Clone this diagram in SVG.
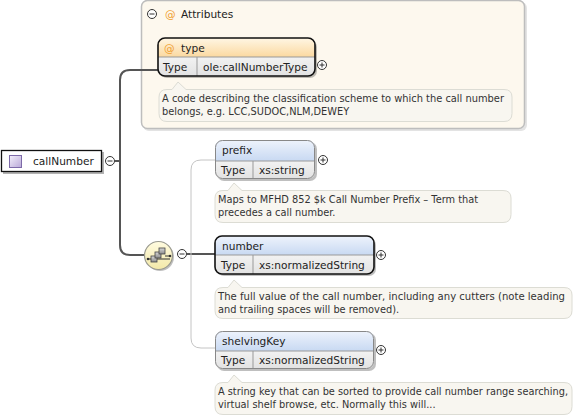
<svg xmlns="http://www.w3.org/2000/svg" width="579" height="417" viewBox="0 0 579 417">
<defs>
<linearGradient id="gBlue" x1="0" y1="0" x2="0" y2="1"><stop offset="0" stop-color="#eef3fc"/><stop offset="1" stop-color="#c8d9f2"/></linearGradient>
<linearGradient id="gOrange" x1="0" y1="0" x2="0" y2="1"><stop offset="0" stop-color="#fff6e4"/><stop offset="1" stop-color="#fbd9a0"/></linearGradient>
<linearGradient id="gRow" x1="0" y1="0" x2="0" y2="1"><stop offset="0" stop-color="#f2f2f2"/><stop offset="1" stop-color="#e2e2e2"/></linearGradient>
<linearGradient id="gIcon" x1="0" y1="0" x2="1" y2="1"><stop offset="0" stop-color="#f4f0fb"/><stop offset="1" stop-color="#b9a8d8"/></linearGradient>
<linearGradient id="gComp" x1="0" y1="0" x2="0" y2="1"><stop offset="0" stop-color="#fffbe0"/><stop offset="1" stop-color="#f3e9a8"/></linearGradient>
<linearGradient id="gSq" x1="0" y1="0" x2="0" y2="1"><stop offset="0" stop-color="#d8d8d8"/><stop offset="1" stop-color="#8c8c8c"/></linearGradient>
<clipPath id="cType"><rect x="158" y="38" width="157" height="38" rx="7"/></clipPath>
<clipPath id="cPrefix"><rect x="215" y="140" width="100" height="39" rx="7"/></clipPath>
<clipPath id="cNumber"><rect x="215" y="236" width="159" height="38" rx="7"/></clipPath>
<clipPath id="cShelv"><rect x="215" y="331" width="159" height="38" rx="7"/></clipPath>
</defs>
<style>
text{font-family:"DejaVu Sans","Liberation Sans",sans-serif;fill:#222;}
.t{font-size:10.6px;}
.d{font-size:9.8px;fill:#333;}
.shadow{fill:#000;opacity:0.25;}
.doc{fill:#f8f6f0;stroke:#dcdcd4;stroke-width:1;}
.pc{fill:#fff;stroke:#333;stroke-width:1;}
.pl{stroke:#333;stroke-width:1;fill:none;}
.dark{stroke:#555;stroke-width:2;fill:none;}
.light{stroke:#c4c4c4;stroke-width:1;fill:none;}
</style>

<!-- Attributes container -->
<g id="attributes">
<rect x="143" y="2" width="384" height="129" rx="6" fill="#c8c8c8" opacity="0.5"/>
<rect x="141.5" y="0.5" width="383" height="128" rx="6" fill="#fdf8ee" stroke="#bdbdbd" stroke-width="1.5"/>
<circle class="pc" cx="152" cy="14" r="4.5"/>
<path class="pl" d="M149.5 14h5"/>
<text class="t" x="165" y="18" style="fill:#f0a030">@</text>
<text class="t" x="181" y="18">Attributes</text>
</g>

<!-- connectors -->
<g id="connectors">
<path class="dark" d="M115 161H120"/>
<path class="dark" d="M158 70H130Q120 70 120 80V245Q120 255 130 255H145"/>
<path class="dark" d="M187 254H215"/>
<path class="light" d="M215 160H201Q191 160 191 170V338Q191 348 201 348H215"/>
</g>

<!-- callNumber -->
<g id="callNumber">
<rect x="3" y="152" width="101" height="22" fill="#000" opacity="0.3"/>
<rect x="1.5" y="150.5" width="100" height="21" fill="#fff" stroke="#111" stroke-width="1.3"/>
<rect x="9.5" y="155.5" width="12" height="12" fill="url(#gIcon)" stroke="#7d6aa8" stroke-width="1"/>
<text class="t" x="33" y="165">callNumber</text>
<circle class="pc" cx="110" cy="161" r="4.5"/>
<path class="pl" d="M107.5 161h5"/>
</g>

<!-- compositor (sequence) -->
<g id="sequence">
<circle cx="160" cy="257" r="14" fill="#000" opacity="0.25"/>
<circle cx="158.5" cy="255.5" r="14" fill="url(#gComp)" stroke="#9a9a90" stroke-width="1.2"/>
<path d="M148 259H170" stroke="#333" stroke-width="1"/>
<circle cx="148" cy="259" r="1.3" fill="#333"/>
<circle cx="170" cy="256" r="1.3" fill="#333"/>
<rect x="151" y="256" width="6" height="6" fill="url(#gSq)" stroke="#444" stroke-width="0.8"/>
<rect x="155" y="252" width="6" height="6" fill="url(#gSq)" stroke="#444" stroke-width="0.8"/>
<rect x="159" y="248" width="6" height="6" fill="url(#gSq)" stroke="#444" stroke-width="0.8"/>
<path d="M165 256H170" stroke="#333" stroke-width="1"/>
<circle class="pc" cx="182" cy="254" r="4.5"/>
<path class="pl" d="M179.5 254h5"/>
</g>

<!-- type attribute -->
<g id="type">
<rect x="160" y="40" width="157" height="38" rx="7" class="shadow"/>
<g clip-path="url(#cType)">
<rect x="158" y="38" width="157" height="19" fill="url(#gOrange)"/>
<rect x="158" y="57" width="157" height="19" fill="url(#gRow)"/>
<path d="M158 57H315M197 57V76" stroke="#999" stroke-width="1"/>
</g>
<rect x="158" y="38" width="157" height="38" rx="7" fill="none" stroke="#111" stroke-width="1.6"/>
<text class="t" x="164" y="52" style="fill:#f0a030">@</text>
<text class="t" x="181" y="52">type</text>
<text class="t" x="163" y="71">Type</text>
<text class="t" x="203" y="71">ole:callNumberType</text>
<circle class="pc" cx="322" cy="65" r="4.5"/>
<path class="pl" d="M319.5 65h5M322 62.5v5"/>
<path class="doc" d="M167 121.5H504Q512 121.5 512 113.5V97Q512 89.5 504 89.5H186L178 82L172 89.5H167Q159 89.5 159 97V113.5Q159 121.5 167 121.5Z"/>
<text class="d" x="162" y="102" textLength="342" lengthAdjust="spacingAndGlyphs">A code describing the classification scheme to which the call number</text>
<text class="d" x="162" y="115">belongs, e.g. LCC,SUDOC,NLM,DEWEY</text>
</g>

<!-- prefix -->
<g id="prefix">
<rect x="217" y="142" width="100" height="39" rx="7" class="shadow"/>
<g clip-path="url(#cPrefix)">
<rect x="215" y="140" width="100" height="21" fill="url(#gBlue)"/>
<rect x="215" y="161" width="100" height="18" fill="url(#gRow)"/>
<path d="M215 161H315M253 161V179" stroke="#999" stroke-width="1"/>
</g>
<rect x="215.5" y="140.5" width="99" height="38" rx="7" fill="none" stroke="#888" stroke-width="1"/>
<text class="t" x="222" y="154">prefix</text>
<text class="t" x="221" y="174">Type</text>
<text class="t" x="259" y="174">xs:string</text>
<circle class="pc" cx="323" cy="160" r="4.5"/>
<path class="pl" d="M320.5 160h5M323 157.5v5"/>
<path class="doc" d="M223 222.5H503Q511 222.5 511 214.5V198Q511 190.5 503 190.5H242L234 183L228 190.5H223Q215 190.5 215 198V214.5Q215 222.5 223 222.5Z"/>
<text class="d" x="218" y="203">Maps to MFHD 852 $k Call Number Prefix – Term that</text>
<text class="d" x="218" y="216">precedes a call number.</text>
</g>

<!-- number -->
<g id="number">
<rect x="217" y="238" width="159" height="38" rx="7" class="shadow"/>
<g clip-path="url(#cNumber)">
<rect x="215" y="236" width="159" height="19" fill="url(#gBlue)"/>
<rect x="215" y="255" width="159" height="19" fill="url(#gRow)"/>
<path d="M215 255H374M253 255V274" stroke="#999" stroke-width="1"/>
</g>
<rect x="215" y="236" width="159" height="38" rx="7" fill="none" stroke="#111" stroke-width="1.6"/>
<text class="t" x="222" y="250">number</text>
<text class="t" x="221" y="269">Type</text>
<text class="t" x="259" y="269">xs:normalizedString</text>
<circle class="pc" cx="381" cy="255" r="4.5"/>
<path class="pl" d="M378.5 255h5M381 252.5v5"/>
<path class="doc" d="M223 318.5H564Q572 318.5 572 310.5V295Q572 287.5 564 287.5H242L234 280L228 287.5H223Q215 287.5 215 295V310.5Q215 318.5 223 318.5Z"/>
<text class="d" x="218" y="300" textLength="347" lengthAdjust="spacingAndGlyphs">The full value of the call number, including any cutters (note leading</text>
<text class="d" x="218" y="313">and trailing spaces will be removed).</text>
</g>

<!-- shelvingKey -->
<g id="shelvingKey">
<rect x="217" y="333" width="159" height="38" rx="7" class="shadow"/>
<g clip-path="url(#cShelv)">
<rect x="215" y="331" width="159" height="20" fill="url(#gBlue)"/>
<rect x="215" y="351" width="159" height="18" fill="url(#gRow)"/>
<path d="M215 351H374M253 351V369" stroke="#999" stroke-width="1"/>
</g>
<rect x="215.5" y="331.5" width="158" height="37" rx="7" fill="none" stroke="#888" stroke-width="1"/>
<text class="t" x="222" y="345">shelvingKey</text>
<text class="t" x="221" y="364">Type</text>
<text class="t" x="259" y="364">xs:normalizedString</text>
<circle class="pc" cx="381" cy="350" r="4.5"/>
<path class="pl" d="M378.5 350h5M381 347.5v5"/>
<path class="doc" d="M223 414.5H564Q572 414.5 572 406.5V390Q572 382.5 564 382.5H242L234 375L228 382.5H223Q215 382.5 215 390V406.5Q215 414.5 223 414.5Z"/>
<text class="d" x="218" y="395" textLength="350" lengthAdjust="spacingAndGlyphs">A string key that can be sorted to provide call number range searching,</text>
<text class="d" x="218" y="408">virtual shelf browse, etc. Normally this will...</text>
</g>
</svg>
